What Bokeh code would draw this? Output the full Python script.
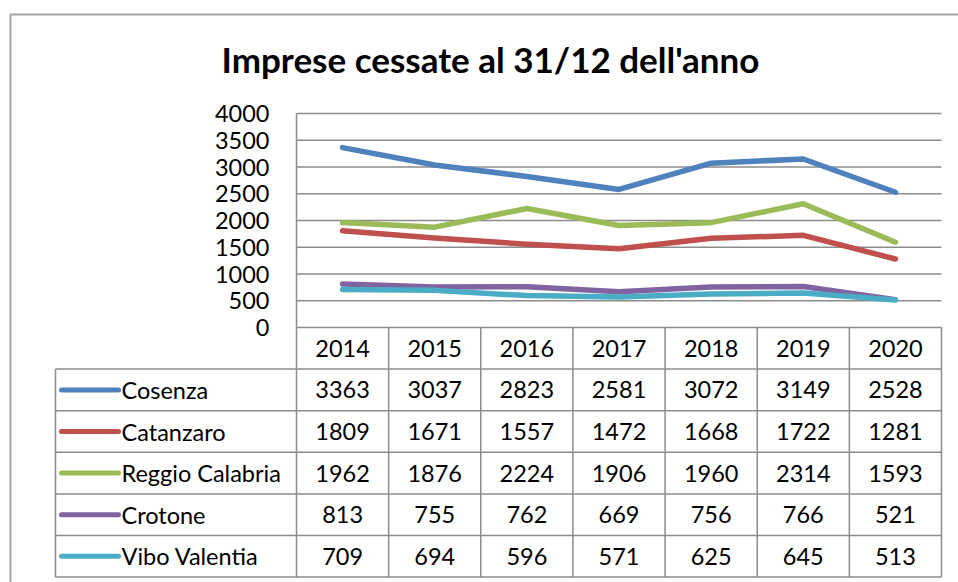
from bokeh.plotting import figure
from bokeh.models import Range1d
from bokeh.core.properties import value
from bokeh.embed import file_html
from bokeh.resources import INLINE

# ---------------- data ----------------
title_text = "Imprese cessate al 31/12 dell'anno"
years = ["2014", "2015", "2016", "2017", "2018", "2019", "2020"]
series_names = ["Cosenza", "Catanzaro", "Reggio Calabria", "Crotone", "Vibo Valentia"]
cosenza = [3363, 3037, 2823, 2581, 3072, 3149, 2528]
catanzaro = [1809, 1671, 1557, 1472, 1668, 1722, 1281]
reggio_calabria = [1962, 1876, 2224, 1906, 1960, 2314, 1593]
crotone = [813, 755, 762, 669, 756, 766, 521]
vibo_valentia = [709, 694, 596, 571, 625, 645, 513]
y_ticks = [0, 500, 1000, 1500, 2000, 2500, 3000, 3500, 4000]

series_values = [cosenza, catanzaro, reggio_calabria, crotone, vibo_valentia]
colors = ["#4F81BD", "#C0504D", "#9BBB59", "#8064A2", "#4BACC6"]

# ---------------- layout (pixels in figure space) ----------------
W, H = 958, 582
PL, PR = 296.0, 941.0       # plot area left / right
PT, PB = 113.0, 327.0       # plot area top (4000) / bottom (0)
YMAX = 4000.0
ROW_H = 41.6
LEG_L = 55.0                # table legend column left
FONT = "Lato"
FS = "23.5px"
GRID = "#8C8C8C"

ppu_y = (PB - PT) / YMAX
ppu_x = (PR - PL) / len(years)

def yv(py):  # pixel -> data y
    return (PB - py) / ppu_y

def xv(px):  # pixel -> data x
    return (px - PL) / ppu_x

p = figure(width=W, height=H, output_backend="svg", toolbar_location=None,
           x_range=Range1d(xv(0), xv(W)), y_range=Range1d(yv(H), yv(0)),
           min_border=0, outline_line_color=None)
p.axis.visible = False
p.grid.visible = False
p.background_fill_color = "white"
p.border_fill_color = "white"

# outer chart border
p.line([xv(10), xv(10), xv(W + 5)], [yv(H + 5), yv(14), yv(14)], line_color="#A6A6A6", line_width=2)

# title
p.text(x=[xv(490)], y=[yv(58)], text=[title_text], text_font=value(FONT),
       text_font_style="bold", text_font_size="35px", text_align="center",
       text_baseline="middle", text_color="black")

# gridlines and plot-area left edge
n = len(years)
for t in y_ticks[1:]:
    p.line([0, n], [t, t], line_color=GRID, line_width=1.5)
p.line([0, 0], [0, YMAX], line_color=GRID, line_width=1.5)

# y tick labels
p.text(x=[xv(269)] * len(y_ticks), y=y_ticks, text=[str(t) for t in y_ticks],
       text_font=value(FONT), text_font_size=FS, text_align="right",
       text_baseline="middle", text_color="black")

# series lines
xs = [i + 0.5 for i in range(n)]
for vals, c in zip(series_values, colors):
    p.line(xs, vals, line_color=c, line_width=5.5, line_join="round", line_cap="round")

# ---------------- data table ----------------
n_rows = len(series_names)
row_tops = [PB + ROW_H * k for k in range(n_rows + 2)]  # header top ... bottom
# horizontal lines
p.line([0, n], [yv(row_tops[0])] * 2, line_color=GRID, line_width=1.5)
for k in range(1, n_rows + 2):
    p.line([xv(LEG_L), n], [yv(row_tops[k])] * 2, line_color=GRID, line_width=1.5)
# vertical lines
for i in range(n + 1):
    p.line([i, i], [yv(row_tops[0]), yv(row_tops[-1])], line_color=GRID, line_width=1.5)
p.line([xv(LEG_L)] * 2, [yv(row_tops[1]), yv(row_tops[-1])], line_color=GRID, line_width=1.5)

# header years
hy = yv(row_tops[0] + ROW_H / 2)
p.text(x=xs, y=[hy] * n, text=years, text_font=value(FONT), text_font_size=FS,
       text_align="center", text_baseline="middle", text_color="black")

# rows
for r, (name, vals, c) in enumerate(zip(series_names, series_values, colors)):
    cy = yv(row_tops[r + 1] + ROW_H / 2)
    p.line([xv(61), xv(118)], [cy, cy], line_color=c, line_width=5, line_cap="round")
    p.text(x=[xv(121)], y=[cy], text=[name], text_font=value(FONT), text_font_size=FS,
           text_align="left", text_baseline="middle", text_color="black")
    p.text(x=xs, y=[cy] * n, text=[str(v) for v in vals], text_font=value(FONT),
           text_font_size=FS, text_align="center", text_baseline="middle",
           text_color="black")

open("out.html", "w").write(file_html(p, INLINE))
